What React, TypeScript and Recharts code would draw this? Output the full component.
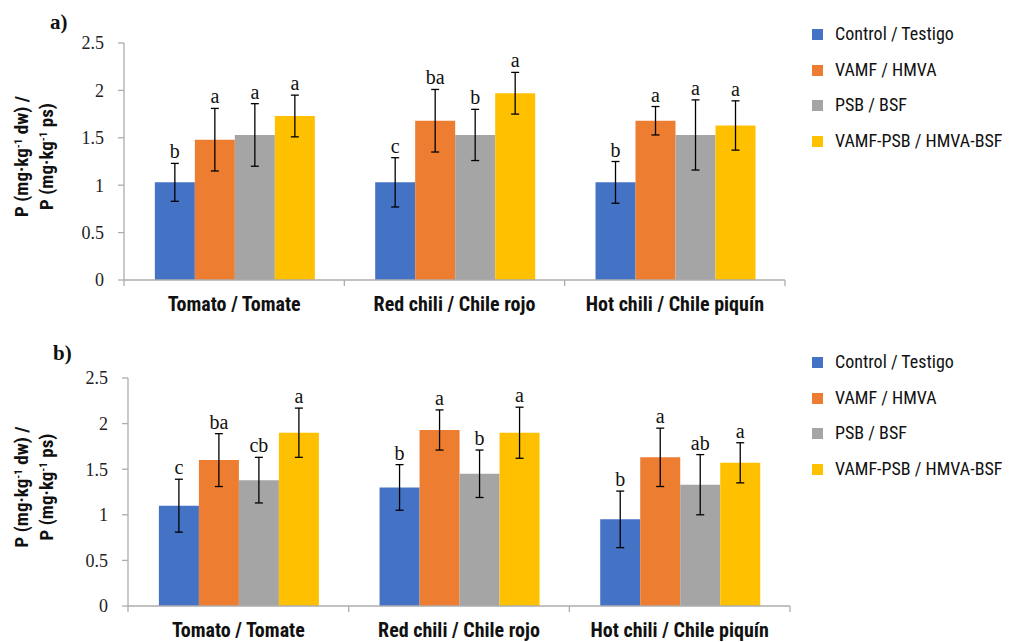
import React from 'react';
import { BarChart, Bar, XAxis, YAxis, ErrorBar, Legend } from 'recharts';

const categories = ['Tomato / Tomate', 'Red chili / Chile rojo', 'Hot chili / Chile piquín'];
const seriesNames = ['Control / Testigo', 'VAMF / HMVA', 'PSB / BSF', 'VAMF-PSB / HMVA-BSF'];
const seriesColors = ['#4472C4', '#ED7D31', '#A5A5A5', '#FFC000'];
const yTicks = [0, 0.5, 1, 1.5, 2, 2.5];

// Panel a
const aControl = [1.03, 1.03, 1.03];
const aControlErr = [0.2, 0.26, 0.22];
const aVamf = [1.48, 1.68, 1.68];
const aVamfErr = [0.33, 0.33, 0.15];
const aPsb = [1.53, 1.53, 1.53];
const aPsbErr = [0.33, 0.27, 0.37];
const aBoth = [1.73, 1.97, 1.63];
const aBothErr = [0.22, 0.22, 0.26];
const aLetters = [
  ['b', 'c', 'b'],
  ['a', 'ba', 'a'],
  ['a', 'b', 'a'],
  ['a', 'a', 'a'],
];

// Panel b
const bControl = [1.1, 1.3, 0.95];
const bControlErr = [0.29, 0.25, 0.31];
const bVamf = [1.6, 1.93, 1.63];
const bVamfErr = [0.29, 0.22, 0.32];
const bPsb = [1.38, 1.45, 1.33];
const bPsbErr = [0.25, 0.26, 0.33];
const bBoth = [1.9, 1.9, 1.57];
const bBothErr = [0.27, 0.28, 0.22];
const bLetters = [
  ['c', 'b', 'b'],
  ['ba', 'a', 'a'],
  ['cb', 'b', 'ab'],
  ['a', 'a', 'a'],
];

const build = (vals: number[][], errs: number[][]) =>
  categories.map((c, i) => {
    const row: any = { name: c };
    vals.forEach((v, s) => {
      row['s' + s] = v[i];
      row['e' + s] = errs[s][i];
    });
    return row;
  });

const dataA = build([aControl, aVamf, aPsb, aBoth], [aControlErr, aVamfErr, aPsbErr, aBothErr]);
const dataB = build([bControl, bVamf, bPsb, bBoth], [bControlErr, bVamfErr, bPsbErr, bBothErr]);

const NARROW = '"Roboto Condensed", "Liberation Sans Narrow", sans-serif';
const SERIF = '"Liberation Serif", "Times New Roman", serif';
const AXIS = '#ADADAD';

const CatTick = (props: any) => {
  const { x, y, payload, index, width, visibleTicksCount } = props;
  const bw = (width || 660) / (visibleTicksCount || 3);
  return (
    <g>
      {index === 0 && <line x1={x - bw / 2} y1={y} x2={x - bw / 2} y2={y + 6} stroke={AXIS} strokeWidth={1.3} />}
      <line x1={x + bw / 2} y1={y} x2={x + bw / 2} y2={y + 6} stroke={AXIS} strokeWidth={1.3} />
      <text
        x={x}
        y={y + 31}
        textAnchor="middle"
        fontFamily={NARROW}
        fontWeight="bold"
        fontSize={20}
        fill="#111"
      >
        {payload.value}
      </text>
    </g>
  );
};

const YTitle = (props: any) => {
  const vb = props.viewBox || {};
  const cy = (vb.y || 0) + (vb.height || 0) / 2 - 5;
  const sup = { baselineShift: 'super', fontSize: 11 } as any;
  return (
    <g fontFamily={NARROW} fontWeight="bold" fontSize={19} fill="#111">
      <text x={28} y={cy} transform={`rotate(-90, 28, ${cy})`} textAnchor="middle">
        <tspan>P (mg·kg</tspan>
        <tspan style={sup}>-1</tspan>
        <tspan> dw) /</tspan>
      </text>
      <text x={53} y={cy} transform={`rotate(-90, 53, ${cy})`} textAnchor="middle">
        <tspan>P (mg·kg</tspan>
        <tspan style={sup}>-1</tspan>
        <tspan> ps)</tspan>
      </text>
    </g>
  );
};

const makeLetter = (letters: string[], errs: number[]) => (p: any) => {
  const { x, y, width, height, value, index } = p;
  const pxPer = value ? height / value : 0;
  const top = y - pxPer * errs[index];
  return (
    <text
      x={x + width / 2}
      y={top - 5}
      textAnchor="middle"
      fontFamily={SERIF}
      fontSize={20}
      fill="#111"
    >
      {letters[index]}
    </text>
  );
};

const LegendBox = () => (
  <div style={{ fontFamily: NARROW, fontSize: 18, color: '#111' }}>
    {seriesNames.map((n, i) => (
      <div key={n} style={{ display: 'flex', alignItems: 'center', height: 35.5, whiteSpace: 'nowrap' }}>
        <span
          style={{
            display: 'inline-block',
            flexShrink: 0,
            width: 11,
            height: 11,
            background: seriesColors[i],
            marginRight: 12,
            marginTop: 2,
          }}
        />
        {n}
      </div>
    ))}
  </div>
);

const Panel = ({ data, errs, letters, ml, mr, mt, xh, legendTop }: any) => (
  <BarChart
    width={1010}
    height={321}
    data={data}
    margin={{ top: mt, right: mr, bottom: 0, left: 0 }}
    barCategoryGap="14%"
    barGap={0}
  >
    <XAxis
      dataKey="name"
      height={xh}
      tickLine={false}
      tickSize={0}
      tickMargin={0}
      stroke={AXIS}
      strokeWidth={1.3}
      tick={<CatTick />}
      interval={0}
    />
    <YAxis
      width={ml}
      domain={[0, 2.5]}
      ticks={yTicks}
      stroke={AXIS}
      strokeWidth={1.3}
      tickSize={6}
      tickMargin={14}
      tick={{ fontFamily: SERIF, fontSize: 18, fill: '#222' }}
      label={<YTitle />}
    />
    <Legend
      layout="vertical"
      align="center"
      verticalAlign="middle"
      wrapperStyle={{ top: legendTop, left: 812, width: 198 }}
      content={<LegendBox />}
    />
    {[0, 1, 2, 3].map((s) => (
      <Bar
        key={s}
        dataKey={'s' + s}
        name={seriesNames[s]}
        fill={seriesColors[s]}
        isAnimationActive={false}
        label={makeLetter(letters[s], errs[s])}
      >
        <ErrorBar dataKey={'e' + s} width={4} stroke="#000" strokeWidth={1.3} direction="y" />
      </Bar>
    ))}
  </BarChart>
);

export default function App() {
  return (
    <div style={{ position: 'absolute', left: 0, top: 0, width: 1010, height: 642, background: '#fff', overflow: 'hidden' }}>
      <div style={{ position: 'absolute', left: 0, top: 0 }}>
        <Panel
          data={dataA}
          errs={[aControlErr, aVamfErr, aPsbErr, aBothErr]}
          letters={aLetters}
          ml={124}
          mr={225}
          mt={43}
          xh={41}
          legendTop={16}
        />
      </div>
      <div style={{ position: 'absolute', left: 0, top: 321 }}>
        <Panel
          data={dataB}
          errs={[bControlErr, bVamfErr, bPsbErr, bBothErr]}
          letters={bLetters}
          ml={128}
          mr={220}
          mt={57}
          xh={36}
          legendTop={23}
        />
      </div>
      <div style={{ position: 'absolute', left: 50, top: 10, fontFamily: SERIF, fontWeight: 'bold', fontSize: 21, color: '#111' }}>a)</div>
      <div style={{ position: 'absolute', left: 53, top: 341, fontFamily: SERIF, fontWeight: 'bold', fontSize: 21, color: '#111' }}>b)</div>
    </div>
  );
}
